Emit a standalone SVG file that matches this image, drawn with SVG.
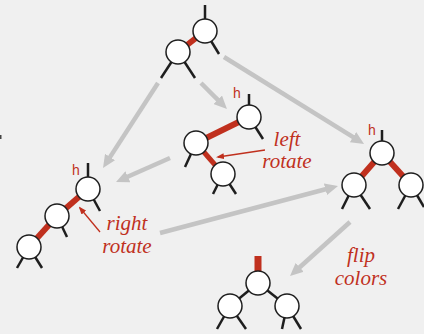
<svg xmlns="http://www.w3.org/2000/svg" width="424" height="334" viewBox="0 0 424 334">
<style>
.bg{fill:#f0f0f0}
.nd{fill:#fff;stroke:#1e1e1e;stroke-width:1.5}
.bl{stroke:#1e1e1e;stroke-width:2.5;fill:none}
.rd{stroke:#c0301e;stroke-width:6;fill:none}
.rd5{stroke:#c0301e;stroke-width:5;fill:none}
.ga{stroke:#c4c4c4;stroke-width:4.5;fill:none;marker-end:url(#gh)}
.ra{stroke:#c0301e;stroke-width:1.3;fill:none;marker-end:url(#rh)}
.h{font-family:"Liberation Sans","DejaVu Sans",sans-serif;font-size:14px;fill:#c0301e}
.lb{font-family:"Liberation Serif","DejaVu Serif",serif;font-style:italic;font-size:21px;fill:#c0301e;text-anchor:middle}
</style>
<defs>
<marker id="gh" markerUnits="userSpaceOnUse" markerWidth="13" markerHeight="12" refX="4" refY="6" orient="auto" viewBox="0 0 13 12">
<path d="M0,0 L13,6 L0,12 z" fill="#c4c4c4"/>
</marker>
<marker id="rh" markerUnits="userSpaceOnUse" markerWidth="8" markerHeight="6" refX="6" refY="3" orient="auto" viewBox="0 0 8 6">
<path d="M0,0 L8,3 L0,6 z" fill="#c0301e"/>
</marker>
</defs>
<rect class="bg" x="0" y="0" width="424" height="334"/>
<rect x="0" y="135" width="1.5" height="4" fill="#444"/>

<g id="connectors">
<line class="ga" x1="158" y1="83" x2="107.9" y2="160.4"/>
<line class="ga" x1="201" y1="83" x2="220.6" y2="102.6"/>
<line class="ga" x1="224" y1="57" x2="356.4" y2="139.2"/>
<line class="ga" x1="170" y1="158" x2="124.2" y2="178.3"/>
<line class="ga" x1="160" y1="233" x2="329.3" y2="188.3"/>
<line class="ga" x1="350" y1="222" x2="296.7" y2="270"/>
<line class="ra" x1="265" y1="150" x2="218" y2="157"/>
<line class="ra" x1="100" y1="232" x2="80" y2="208"/>
</g>

<g id="tree-top">
<line class="bl" x1="205" y1="5" x2="205" y2="31"/>
<line class="bl" x1="205" y1="31" x2="219" y2="54"/>
<line class="bl" x1="178" y1="52" x2="161" y2="78"/>
<line class="bl" x1="178" y1="52" x2="195" y2="78"/>
<line class="rd" x1="205" y1="31" x2="178" y2="52"/>
<g id="top-a"><circle class="nd" cx="205" cy="31" r="12"/></g>
<g id="top-b"><circle class="nd" cx="178" cy="52" r="12"/></g>
</g>

<g id="tree-left-rotate">
<line class="bl" x1="249" y1="94" x2="249" y2="117"/>
<line class="bl" x1="249" y1="117" x2="263" y2="139"/>
<line class="bl" x1="196" y1="143" x2="185" y2="167"/>
<line class="bl" x1="223" y1="174" x2="213" y2="194"/>
<line class="bl" x1="223" y1="174" x2="236" y2="194"/>
<line class="rd" x1="249" y1="117" x2="196" y2="143"/>
<line class="rd5" x1="196" y1="143" x2="223" y2="174"/>
<g id="mid-h"><circle class="nd" cx="249" cy="117" r="12"/></g>
<g id="mid-l"><circle class="nd" cx="196" cy="143" r="12"/></g>
<g id="mid-c"><circle class="nd" cx="223" cy="174" r="12"/></g>
<text class="h" x="233" y="98">h</text>
<text class="lb" x="287" y="146">left</text>
<text class="lb" x="287" y="168">rotate</text>
</g>

<g id="tree-right-rotate">
<line class="bl" x1="88" y1="163" x2="88" y2="189"/>
<line class="bl" x1="88" y1="189" x2="100" y2="211"/>
<line class="bl" x1="57" y1="216" x2="67" y2="237"/>
<line class="bl" x1="29" y1="247" x2="17" y2="268"/>
<line class="bl" x1="29" y1="247" x2="42" y2="268"/>
<line class="rd" x1="88" y1="189" x2="57" y2="216"/>
<line class="rd" x1="57" y1="216" x2="29" y2="247"/>
<g id="left-h"><circle class="nd" cx="88" cy="189" r="12"/></g>
<g id="left-m"><circle class="nd" cx="57" cy="216" r="12"/></g>
<g id="left-b"><circle class="nd" cx="29" cy="247" r="12"/></g>
<text class="h" x="72" y="175">h</text>
<text class="lb" x="127" y="230">right</text>
<text class="lb" x="127" y="253">rotate</text>
</g>

<g id="tree-right">
<line class="bl" x1="382" y1="130" x2="382" y2="153"/>
<line class="bl" x1="354" y1="185" x2="342" y2="209"/>
<line class="bl" x1="354" y1="185" x2="370" y2="209"/>
<line class="bl" x1="411" y1="185" x2="398" y2="209"/>
<line class="bl" x1="411" y1="185" x2="424" y2="207"/>
<line class="rd" x1="382" y1="153" x2="354" y2="185"/>
<line class="rd" x1="382" y1="153" x2="411" y2="185"/>
<g id="right-t"><circle class="nd" cx="382" cy="153" r="12"/></g>
<g id="right-l"><circle class="nd" cx="354" cy="185" r="12"/></g>
<g id="right-r"><circle class="nd" cx="411" cy="185" r="12"/></g>
<text class="h" x="368" y="135">h</text>
</g>

<g id="tree-flip">
<line class="rd" x1="258" y1="256" x2="258" y2="283" style="stroke-width:7"/>
<line class="bl" x1="258" y1="283" x2="230" y2="306"/>
<line class="bl" x1="258" y1="283" x2="287" y2="306"/>
<line class="bl" x1="230" y1="306" x2="217" y2="329"/>
<line class="bl" x1="230" y1="306" x2="246" y2="329"/>
<line class="bl" x1="287" y1="306" x2="282" y2="329"/>
<line class="bl" x1="287" y1="306" x2="301" y2="329"/>
<g id="flip-t"><circle class="nd" cx="258" cy="283" r="12"/></g>
<g id="flip-l"><circle class="nd" cx="230" cy="306" r="12"/></g>
<g id="flip-r"><circle class="nd" cx="287" cy="306" r="12"/></g>
<text class="lb" x="361" y="262">flip</text>
<text class="lb" x="361" y="285">colors</text>
</g>
</svg>
